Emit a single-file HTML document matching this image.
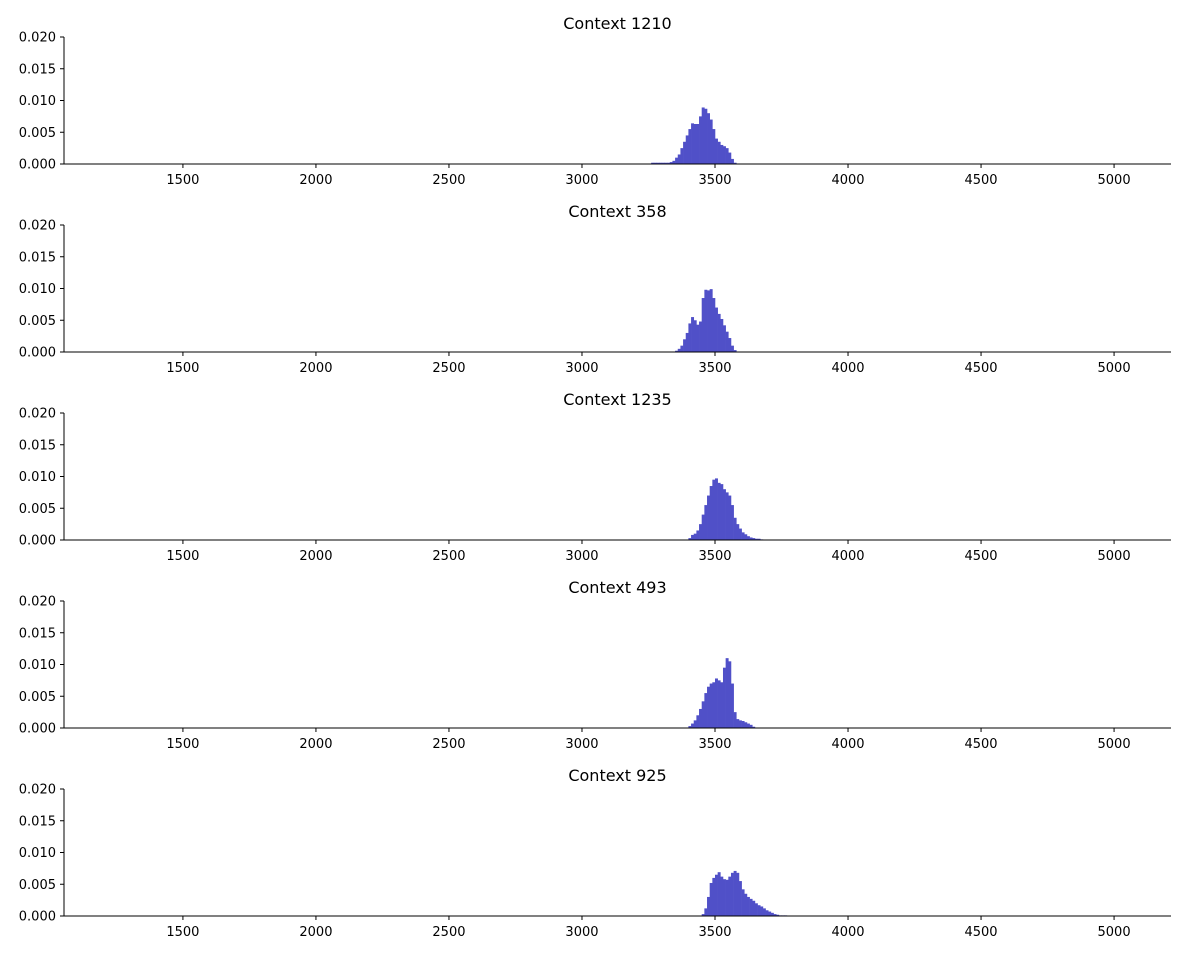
<!DOCTYPE html>
<html><head><meta charset="utf-8"><style>
body{margin:0;background:#fff;}
svg{display:block;font-family:"DejaVu Sans","Liberation Sans",sans-serif;}
</style></head><body>
<svg id="chart" width="1185" height="955" viewBox="0 0 1185 955"></svg>
<script>
const titles = ["Context 1210","Context 358","Context 1235","Context 493","Context 925"];
const binStarts = [3260, 3350, 3400, 3400, 3450];
const binWidth = 10;
const series0 = [.0002,.0002,.0002,.0002,.0002,.0002,.0002,.0003,.0005,.001,.0015,.0025,.0035,.0045,.0055,.0064,.0063,.0063,.0075,.0089,.0087,.008,.007,.0055,.004,.0035,.003,.0028,.0025,.0018,.0008,.0002];
const series1 = [.0002,.0005,.001,.002,.003,.0045,.0055,.005,.0043,.0048,.0085,.0098,.0097,.0099,.0085,.007,.006,.0052,.0042,.0032,.0022,.001,.0003];
const series2 = [.0003,.0008,.001,.0015,.0025,.004,.0055,.007,.0085,.0095,.0097,.009,.0088,.008,.0075,.007,.0055,.0035,.0025,.0018,.0012,.0009,.0006,.0004,.0003,.0002,.0002,.0001];
const series3 = [.0003,.0007,.0012,.002,.003,.0042,.0055,.0065,.007,.0072,.0078,.0075,.0072,.0095,.011,.0105,.007,.0025,.0014,.0012,.0011,.0009,.0007,.0005,.0002];
const series4 = [.0003,.0012,.003,.0052,.006,.0065,.0069,.0062,.0058,.0057,.0062,.0068,.0071,.0068,.0055,.0042,.0035,.003,.0027,.0024,.002,.0017,.0015,.0012,.0009,.0007,.0005,.0003,.0002,.0001,.0001,.0001];
const allSeries = [series0,series1,series2,series3,series4];
const xTicks = [1500,2000,2500,3000,3500,4000,4500,5000];
const yTicks = [0,0.005,0.010,0.015,0.020];
const yTickLabels = ["0.000","0.005","0.010","0.015","0.020"];

const NS="http://www.w3.org/2000/svg";
const svg=document.getElementById('chart');
const L=64,R=1171,xMin=1053,xMax=5214;
const X=v=>L+(v-xMin)/(xMax-xMin)*(R-L);
function mk(tag,attrs,parent){const e=document.createElementNS(NS,tag);for(const k in attrs)e.setAttribute(k,attrs[k]);parent.appendChild(e);return e;}
for(let p=0;p<5;p++){
  const top=37+p*188,base=164+p*188;
  const Y=v=>base-v/0.02*(base-top);
  const g=mk('g',{},svg);
  
  
  const t=mk('text',{x:(L+R)/2,y:top-8,'text-anchor':'middle','font-size':'16'},g);
  t.textContent=titles[p];
  
  
  const s=allSeries[p];
  for(let i=0;i<s.length;i++){
    const x0=X(binStarts[p]+i*binWidth),x1=X(binStarts[p]+(i+1)*binWidth);
    const r=mk('rect',{x:x0,y:Y(s[i]),width:x1-x0+0.3,height:base-Y(s[i]),fill:'#5050c8'},g);
    
    
  }
  mk('line',{x1:L,y1:top,x2:L,y2:base,stroke:'#000','stroke-width':1},g);
  mk('line',{x1:L,y1:base,x2:R,y2:base,stroke:'#000','stroke-width':1},g);
  yTicks.forEach((v,i)=>{
    mk('line',{x1:L-4,y1:Y(v),x2:L,y2:Y(v),stroke:'#000'},g);
    const tt=mk('text',{x:L-8,y:Y(v)+4.5,'text-anchor':'end','font-size':'13'},g);
    tt.textContent=yTickLabels[i];
    
    
  });
  xTicks.forEach(v=>{
    mk('line',{x1:X(v),y1:base,x2:X(v),y2:base+4,stroke:'#000'},g);
    const tt=mk('text',{x:X(v),y:base+20,'text-anchor':'middle','font-size':'13'},g);
    tt.textContent=v;
    
    
  });
}
</script>
</body></html>
